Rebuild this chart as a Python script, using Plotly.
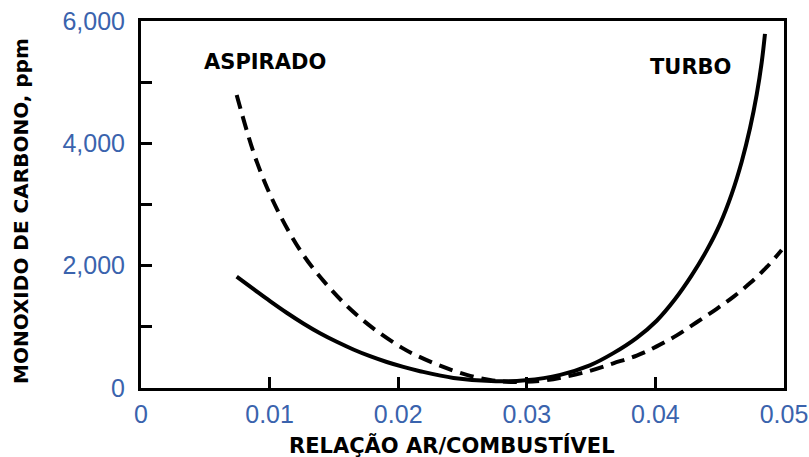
import plotly.graph_objects as go

# Turbo (solid) curve: air/fuel ratio vs CO ppm
turbo_x = [0.00744, 0.00873, 0.01003, 0.01133, 0.01262, 0.01392, 0.01522, 0.01651,
           0.01781, 0.01911, 0.0204, 0.0217, 0.0243, 0.0276, 0.0299, 0.0326, 0.0349,
           0.03673, 0.03855, 0.0401, 0.04152, 0.04282, 0.04399, 0.04502, 0.04593,
           0.04671, 0.04736, 0.04788, 0.04827, 0.04852]
turbo_y = [1820, 1620, 1420, 1230, 1055, 895, 755, 630,
           520, 425, 345, 275, 165, 110, 125, 215, 370,
           570, 820, 1100, 1450, 1840, 2250, 2680, 3170,
           3700, 4250, 4800, 5330, 5790]

# Aspirado (dashed) curve
aspirado_x = [0.00744, 0.009, 0.01068, 0.01262, 0.01444, 0.01612, 0.01806, 0.02027,
              0.02144, 0.02325, 0.02533, 0.02714, 0.0287, 0.031, 0.0328, 0.0349,
              0.03673, 0.03855, 0.0401, 0.04166, 0.04321, 0.04477, 0.04606, 0.04736,
              0.04865, 0.04982]
aspirado_y = [4791, 3700, 2880, 2175, 1690, 1320, 975, 660,
              530, 365, 215, 130, 100, 115, 175, 280,
              404, 530, 680, 860, 1075, 1295, 1490, 1715,
              1975, 2256]

x_ticks = [0, 0.01, 0.02, 0.03, 0.04, 0.05]
x_tick_labels = ["0", "0.01", "0.02", "0.03", "0.04", "0.05"]
y_ticks = [0, 2000, 4000, 6000]
y_tick_labels = ["0", "2,000", "4,000", "6,000"]

label_color = "#3a63ad"
tick_font = dict(family="Liberation Sans, Arial, sans-serif", size=25, color=label_color)
bold_font = dict(family="DejaVu Sans, sans-serif", size=21, color="black", weight="bold")

W, H = 809, 457
ML, MR, MT, MB = 141, 25, 21, 69

fig = go.Figure()
fig.add_trace(go.Scatter(x=aspirado_x, y=aspirado_y, mode="lines", line_shape="spline",
                         line=dict(color="black", width=4, dash="14px,8px", smoothing=1.0),
                         name="ASPIRADO", showlegend=False, hoverinfo="skip"))
fig.add_trace(go.Scatter(x=turbo_x, y=turbo_y, mode="lines", line_shape="spline",
                         line=dict(color="black", width=4, smoothing=1.0),
                         name="TURBO", showlegend=False, hoverinfo="skip"))

plot_w = W - ML - MR
plot_h = H - MT - MB


def px_to_paper(px, py):
    return (px - ML) / plot_w, ((H - py) - MB) / plot_h


tx, ty = px_to_paper(452, 445)
yx, yy = px_to_paper(21, 211)

fig.update_layout(
    width=W, height=H, autosize=False,
    margin=dict(l=ML, r=MR, t=MT, b=MB, pad=0),
    paper_bgcolor="white", plot_bgcolor="white",
    showlegend=False,
    xaxis=dict(range=[0, 0.05], tickvals=x_ticks, ticktext=x_tick_labels,
               showgrid=False, zeroline=False, showline=True, linecolor="black",
               linewidth=3, mirror=True, ticks="inside", ticklen=11, tickwidth=3,
               tickcolor="black", tickfont=tick_font, ticklabelstandoff=2,
               automargin=False),
    yaxis=dict(range=[0, 6000], tickvals=y_ticks, ticktext=y_tick_labels,
               showgrid=False, zeroline=False, showline=True, linecolor="black",
               linewidth=3, mirror=True, ticks="inside", ticklen=11, tickwidth=3,
               tickcolor="black", tickfont=tick_font, ticklabelstandoff=8,
               automargin=False,
               minor=dict(dtick=1000, ticks="inside", ticklen=11, tickwidth=3,
                          tickcolor="black", showgrid=False)),
    annotations=[
        dict(text="ASPIRADO", x=0.00964, y=5322, xref="x", yref="y",
             xanchor="center", yanchor="middle", showarrow=False, font=bold_font),
        dict(text="TURBO", x=0.0427, y=5240, xref="x", yref="y",
             xanchor="center", yanchor="middle", showarrow=False, font=bold_font),
        dict(text="RELAÇÃO AR/COMBUSTÍVEL", x=tx, y=ty, xref="paper", yref="paper",
             xanchor="center", yanchor="middle", showarrow=False, font=bold_font),
        dict(text="MONOXIDO DE CARBONO, ppm", textangle=-90, x=yx, y=yy,
             xref="paper", yref="paper", xanchor="center", yanchor="middle",
             showarrow=False,
             font=dict(family="DejaVu Sans, sans-serif", size=20, color="black", weight="bold")),
    ],
)

fig.write_html("out.html")
